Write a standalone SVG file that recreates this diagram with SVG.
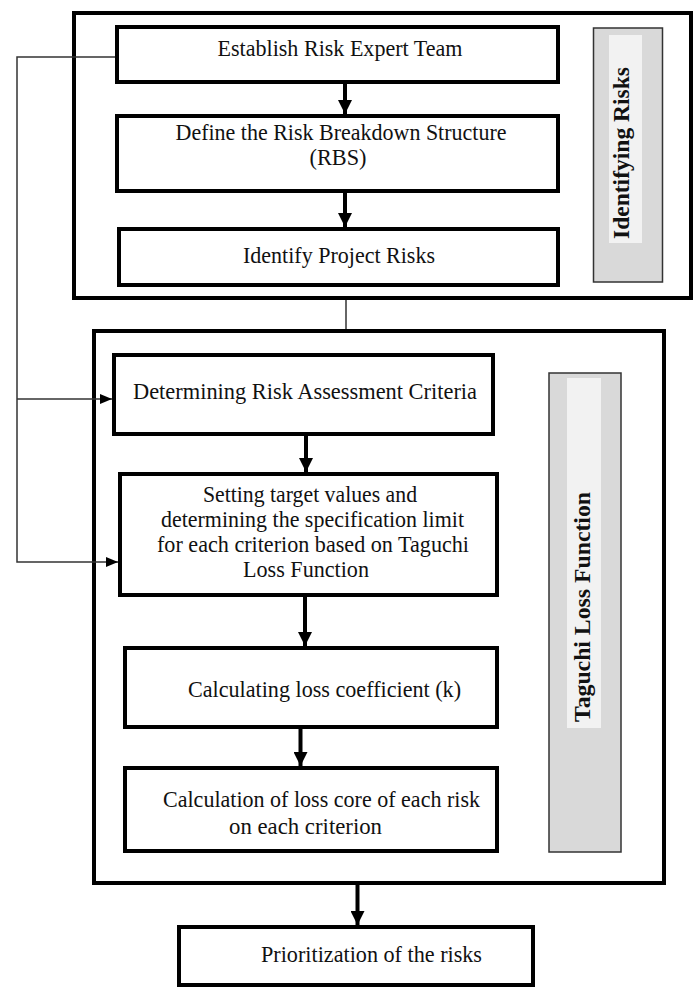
<svg xmlns="http://www.w3.org/2000/svg" width="696" height="988" viewBox="0 0 696 988">
<style>
.box{fill:#fff;stroke:#000;stroke-width:4}
.frame{fill:none;stroke:#000;stroke-width:4}
.band{fill:#d9d9d9;stroke:#333;stroke-width:1.5}
.strip{fill:#f2f2f2;stroke:none}
.t{font-family:"Liberation Serif","Times New Roman",serif;font-size:23px;fill:#111;text-anchor:middle}
.vt{font-family:"Liberation Serif","Times New Roman",serif;font-size:24px;font-weight:bold;fill:#111;text-anchor:middle}
.thick{stroke:#000;stroke-width:4;fill:none}
.thin{stroke:#333;stroke-width:1.5;fill:none}
</style>
<defs>
<marker id="big" viewBox="0 0 14 14" markerWidth="15" markerHeight="14" refX="14" refY="7" orient="auto" markerUnits="userSpaceOnUse">
<path d="M0,0 L14,7 L0,14 z" fill="#000"/>
</marker>
<marker id="small" viewBox="0 0 12 10" markerWidth="13" markerHeight="10" refX="12" refY="5" orient="auto" markerUnits="userSpaceOnUse">
<path d="M0,0 L12,5 L0,10 z" fill="#000"/>
</marker>
</defs>

<g id="group-identifying">
<rect class="frame" x="74" y="13" width="617" height="285"/>
</g>
<g id="group-taguchi">
<rect class="frame" x="94" y="331" width="570" height="552"/>
</g>

<g id="connectors">
<line class="thick" x1="345" y1="84" x2="345" y2="114" marker-end="url(#big)"/>
<line class="thick" x1="345" y1="193" x2="345" y2="227" marker-end="url(#big)"/>
<line class="thin" x1="346" y1="300" x2="346" y2="329"/>
<line class="thick" x1="306" y1="436" x2="306" y2="472" marker-end="url(#big)"/>
<line class="thick" x1="305" y1="597" x2="305" y2="646" marker-end="url(#big)"/>
<line class="thick" x1="300.5" y1="729" x2="300.5" y2="766" marker-end="url(#big)"/>
<line class="thick" x1="357.5" y1="885" x2="357.5" y2="925" marker-end="url(#big)"/>
<polyline class="thin" points="115,57 17,57 17,562 118,562" marker-end="url(#small)"/>
<line class="thin" x1="17" y1="399" x2="112" y2="399" marker-end="url(#small)"/>
</g>

<g id="node-establish">
<rect class="box" x="117" y="27" width="441" height="55"/>
<text class="t" x="340" y="56" textLength="245" lengthAdjust="spacingAndGlyphs">Establish Risk Expert Team</text>
</g>
<g id="node-rbs">
<rect class="box" x="117" y="116" width="441" height="75"/>
<text class="t" x="341" y="140" textLength="331" lengthAdjust="spacingAndGlyphs">Define the Risk Breakdown Structure</text>
<text class="t" x="338" y="165" textLength="57" lengthAdjust="spacingAndGlyphs">(RBS)</text>
</g>
<g id="node-identify">
<rect class="box" x="119" y="229" width="439" height="56"/>
<text class="t" x="339" y="263" textLength="192" lengthAdjust="spacingAndGlyphs">Identify Project Risks</text>
</g>
<g id="label-identifying">
<rect class="band" x="593.5" y="28" width="69" height="254"/>
<rect class="strip" x="609" y="35" width="33" height="208"/>
<text class="vt" transform="translate(629,153) rotate(-90)" textLength="172" lengthAdjust="spacingAndGlyphs">Identifying Risks</text>
</g>

<g id="node-criteria">
<rect class="box" x="114" y="355" width="379" height="79"/>
<text class="t" x="305" y="399" textLength="344" lengthAdjust="spacingAndGlyphs">Determining Risk Assessment Criteria</text>
</g>
<g id="node-target">
<rect class="box" x="120" y="474" width="377" height="121"/>
<text class="t" x="310" y="502" textLength="214" lengthAdjust="spacingAndGlyphs">Setting target values and</text>
<text class="t" x="312.5" y="527" textLength="303" lengthAdjust="spacingAndGlyphs">determining the specification limit</text>
<text class="t" x="313" y="552" textLength="312" lengthAdjust="spacingAndGlyphs">for each criterion based on Taguchi</text>
<text class="t" x="306" y="577" textLength="126" lengthAdjust="spacingAndGlyphs">Loss Function</text>
</g>
<g id="node-coefficient">
<rect class="box" x="125" y="648" width="372" height="79"/>
<text class="t" x="324.5" y="697" textLength="273" lengthAdjust="spacingAndGlyphs">Calculating loss coefficient (k)</text>
</g>
<g id="node-losscore">
<rect class="box" x="125" y="768" width="372" height="83"/>
<text class="t" x="321.5" y="807" textLength="317" lengthAdjust="spacingAndGlyphs">Calculation of loss core of each risk</text>
<text class="t" x="305.5" y="834" textLength="153" lengthAdjust="spacingAndGlyphs">on each criterion</text>
</g>
<g id="label-taguchi">
<rect class="band" x="549" y="373" width="72" height="479"/>
<rect class="strip" x="567" y="378" width="34" height="350"/>
<text class="vt" transform="translate(590,607) rotate(-90)" textLength="230" lengthAdjust="spacingAndGlyphs">Taguchi Loss Function</text>
</g>

<g id="node-prioritization">
<rect class="box" x="179" y="927" width="354" height="58"/>
<text class="t" x="371.5" y="962" textLength="221" lengthAdjust="spacingAndGlyphs">Prioritization of  the risks</text>
</g>
</svg>
